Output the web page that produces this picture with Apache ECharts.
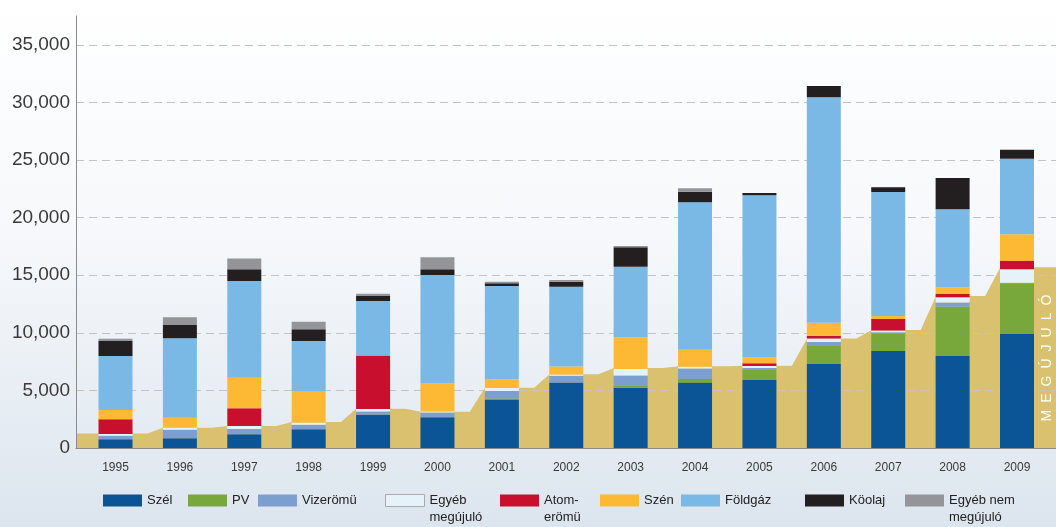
<!DOCTYPE html>
<html>
<head>
<meta charset="utf-8">
<script src="https://cdn.jsdelivr.net/npm/echarts@6/dist/echarts.min.js"></script>
<style>
  * { margin: 0; padding: 0; }
  html, body {
    width: 1056px;
    height: 527px;
    overflow: hidden;
    background: linear-gradient(#ffffff 0%, #f6f8fb 45%, #dce5ee 100%);
  }
  #chart { width: 1056px; height: 527px; }
</style>
</head>
<body>
<div id="chart"></div>
<script>
// évek
var years = ['1995', '1996', '1997', '1998', '1999', '2000', '2001', '2002',
  '2003', '2004', '2005', '2006', '2007', '2008', '2009'];

// beépített kapacitás (MW), alulról felfelé halmozva
var szel = [760, 850, 1190, 1630, 2880, 2680, 4210, 5680, 5240, 5680, 5900, 7290, 8420, 7990, 9900];
var pv = [0, 0, 0, 0, 0, 0, 90, 0, 140, 300, 930, 1620, 1540, 4280, 4340];
var vizeromu = [300, 740, 460, 390, 295, 410, 650, 590, 920, 920, 110, 290, 90, 350, 100];
var egyebMegujulo = [160, 160, 250, 190, 210, 80, 260, 100, 560, 160, 180, 300, 150, 460, 1170];
var atomeromu = [1270, 0, 1550, 0, 4645, 0, 0, 0, 0, 0, 230, 250, 1000, 290, 720];
var szen = [800, 870, 2640, 2740, 0, 2450, 740, 710, 2760, 1470, 520, 1130, 260, 580, 2320];
var foldgaz = [4700, 6900, 8410, 4340, 4720, 9400, 8110, 6920, 6120, 12800, 14060, 19560, 10760, 6770, 6560];
var koolaj = [1290, 1160, 1010, 1010, 450, 490, 240, 440, 1680, 920, 200, 980, 410, 2720, 790];
var egyebNem = [200, 670, 950, 660, 180, 1040, 140, 140, 110, 290, 0, 0, 0, 0, 0];

// megújuló összesen (háttér sáv)
var megujuloSav = [1260, 1750, 1900, 2250, 3400, 3150, 5240, 6400, 6950, 7100, 7150, 9500, 10250, 13200, 15700];

// y tengely
var yMax = 37500;
var yStep = 5000;

var sorozatok = [
  { name: 'Szél', data: szel, color: '#0b5596', legendLeft: 103 },
  { name: 'PV', data: pv, color: '#78a83c', legendLeft: 188 },
  { name: 'Vizerömü', data: vizeromu, color: '#7d9fd0', legendLeft: 258 },
  { name: 'Egyéb megújuló', label: 'Egyéb\nmegújuló', data: egyebMegujulo, color: '#e6f2fa', legendLeft: 385, border: true },
  { name: 'Atom-erömü', label: 'Atom-\nerömü', data: atomeromu, color: '#c8102e', legendLeft: 500 },
  { name: 'Szén', data: szen, color: '#fdb933', legendLeft: 600 },
  { name: 'Földgáz', data: foldgaz, color: '#7ab9e5', legendLeft: 681 },
  { name: 'Köolaj', data: koolaj, color: '#231f20', legendLeft: 805 },
  { name: 'Egyéb nem megújuló', label: 'Egyéb nem\nmegújuló', data: egyebNem, color: '#939598', legendLeft: 905 }
];

var FONT = "'Liberation Sans', Arial, sans-serif";

// fél oszlopszélesség a kategória-egységben (34px / 64.4px)
var fel = 17 / 64.4;
var savPontok = [[-0.613, megujuloSav[0]]];
megujuloSav.forEach(function (v, i) {
  savPontok.push([i - fel, v]);
  savPontok.push([i + 0.5, v]);
});
savPontok.push([14.6, megujuloSav[megujuloSav.length - 1]]);

var myChart = echarts.init(document.getElementById('chart'));

var series = [{
  name: 'megujulo',
  type: 'line',
  xAxisIndex: 0,
  yAxisIndex: 0,
  data: savPontok,
  symbol: 'none',
  lineStyle: { width: 0 },
  areaStyle: { color: '#d9c170', opacity: 1 },
  silent: true,
  z: -1
}];

sorozatok.forEach(function (s) {
  series.push({
    name: s.name,
    type: 'bar',
    stack: 'osszes',
    xAxisIndex: 1,
    yAxisIndex: 1,
    barWidth: 34,
    data: s.data,
    itemStyle: { color: s.color }
  });
});

// két soros feliratoknál üres első sor, így a felső sor az ikon mellé kerül
var legends = sorozatok.map(function (s) {
  var ketSor = !!s.label;
  return {
    data: [{
      name: s.name,
      itemStyle: s.border ? { borderColor: '#a9a9a9', borderWidth: 1 } : undefined
    }],
    left: s.legendLeft,
    top: ketSor ? 475 : 492,
    padding: 0,
    icon: 'rect',
    itemWidth: 39,
    itemHeight: 12,
    selectedMode: false,
    formatter: function () { return ketSor ? '\n' + s.label : s.name; },
    textStyle: {
      fontFamily: FONT,
      fontSize: 13,
      color: '#222',
      lineHeight: 17
    }
  };
});

var splitColors = [];
for (var t = 0; t <= yMax / yStep; t++) splitColors.push('#c4c4c4');
splitColors.push('rgba(0,0,0,0)');

var option = {
  animation: false,
  grid: [
    { left: 76, right: 0, top: 16, height: 432 },
    { left: 83.3, right: 6.8, top: 16, height: 432 }
  ],
  xAxis: [{
    gridIndex: 0,
    type: 'value',
    min: -0.613,
    max: 14.6,
    axisLine: { show: true, onZero: false, lineStyle: { color: '#8c8c8c', width: 1 } },
    axisTick: { show: false },
    axisLabel: { show: false },
    splitLine: { show: false }
  }, {
    gridIndex: 1,
    type: 'category',
    data: years,
    axisLine: { show: false },
    axisTick: { show: false },
    axisLabel: {
      margin: 14,
      fontFamily: FONT,
      fontSize: 12,
      color: '#3a3a3a'
    }
  }],
  yAxis: [{
    gridIndex: 0,
    type: 'value',
    min: 0,
    max: yMax,
    interval: yStep,
    axisLine: { show: true, onZero: false, lineStyle: { color: '#8c8c8c', width: 1 } },
    axisTick: { show: false },
    axisLabel: {
      margin: 6,
      fontFamily: FONT,
      fontSize: 19,
      color: '#3a3a3a',
      formatter: function (v) {
        return v > 35000 ? '' : v.toLocaleString('en-US');
      }
    },
    splitLine: {
      show: true,
      lineStyle: { color: splitColors, type: [8, 5], width: 1 }
    }
  }, {
    gridIndex: 1,
    type: 'value',
    min: 0,
    max: yMax,
    show: false
  }],
  legend: legends,
  graphic: [{
    type: 'text',
    x: 1047,
    y: 358,
    rotation: Math.PI / 2,
    silent: true,
    style: {
      text: 'M\u2002E\u2002G\u2002Ú\u2002J\u2002U\u2002L\u2002Ó',
      fill: '#ffffff',
      font: '14px ' + FONT,
      align: 'center',
      verticalAlign: 'middle'
    }
  }],
  series: series
};

myChart.setOption(option);
window.onresize = myChart.resize;
</script>
</body>
</html>
